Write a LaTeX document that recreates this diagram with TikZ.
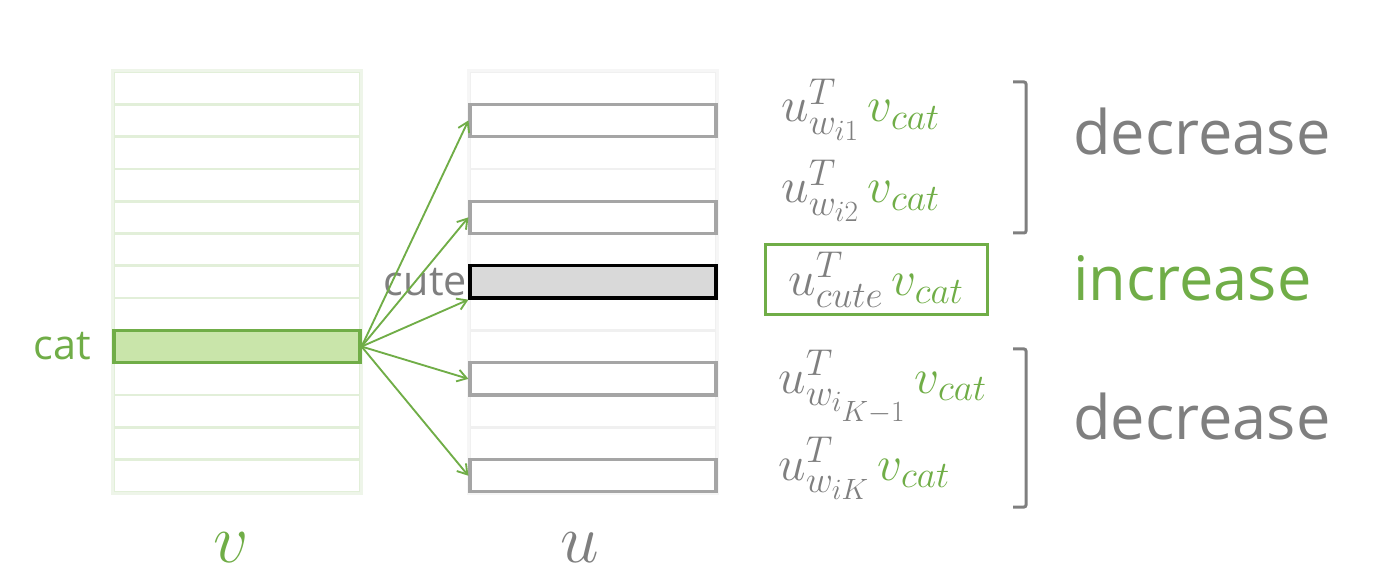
\RequirePackage{fix-cm}
\documentclass[tikz,border=0pt]{standalone}
\usepackage{amsmath}
\usepackage{fontspec}
\setmainfont{Open Sans}
\usepackage{tikz}
\usetikzlibrary{arrows.meta,positioning}
\DeclareMathSizes{37}{37}{28}{22}
\definecolor{pptgreen}{RGB}{112,173,71}
\definecolor{catfill}{RGB}{201,229,170}
\definecolor{gridgreen}{RGB}{226,239,217}
\definecolor{framegreen}{RGB}{238,245,233}
\definecolor{textgray}{RGB}{127,127,127}
\definecolor{boxgray}{RGB}{165,165,165}
\definecolor{gridgray}{RGB}{240,240,240}
\definecolor{framegray}{RGB}{246,246,246}
\definecolor{cutefill}{RGB}{217,217,217}
\tikzset{>={Straight Barb[length=7pt,width=9pt]}}
\tikzset{%
    vrow/.style={draw=gridgreen, line width=2pt, minimum width=184.5pt,
        minimum height=24.2pt, inner sep=0pt},
    urow/.style={vrow, draw=gridgray},
    catrow/.style={vrow, draw=pptgreen, fill=catfill, line width=2.4pt},
    ubox/.style={vrow, draw=boxgray, fill=white, line width=2.4pt},
    cutebox/.style={ubox, draw=black, fill=cutefill},
    word/.style={inner sep=0pt, font=\fontsize{31}{36}\selectfont},
    bigword/.style={inner sep=0pt, anchor=base west, font=\fontsize{46}{52}\selectfont},
    expr/.style={inner sep=0pt, anchor=base west, text=textgray,
        font=\fontsize{37}{42}\selectfont},
    bracket/.style={draw=textgray, line width=2.25pt, rounded corners=1.5pt},
    arrowline/.style={->, draw=pptgreen, line width=1.4pt}
}
\newcommand{\vcat}{\,{\color{pptgreen}v_{cat}}}

\begin{document}
\begin{tikzpicture}[x=0.75pt,y=-0.75pt]
\useasboundingbox (0,0) rectangle (1374,584);

% the two embedding tables
\foreach \i in {0,...,12} {
    \node[vrow] (v\i) at (237,{88.15+32.3*\i}) {};
    \node[urow] (u\i) at (593,{88.15+32.3*\i}) {};
}
\draw[framegreen, line width=2pt] (v0.north west) rectangle (v12.south east);
\draw[framegray, line width=2pt] (u0.north west) rectangle (u12.south east);

\node[catrow] (cat) at (v8) {};
\node[ubox] (w1) at (u1) {};
\node[ubox] (w2) at (u4) {};
\node[cutebox] (cute) at (u6) {};
\node[ubox] (w4) at (u9) {};
\node[ubox] (w5) at (u12) {};

\node[word, text=pptgreen, left=16pt of cat] (catname) {cat};
\node[word, text=textgray, left=1pt of cute] (cutename) {cute};

\node[inner sep=0pt, text=pptgreen, font=\fontsize{52}{56}\selectfont] (vname) at (231,548) {$v$};
\node[inner sep=0pt, text=textgray, font=\fontsize{52}{56}\selectfont] (uname) at (580,548) {$u$};

\draw[arrowline] (cat.east) -- (w1.west);
\draw[arrowline] (cat.east) -- (w2.west);
\draw[arrowline] (cat.east) -- (cute.south west);
\draw[arrowline] (cat.east) -- (w4.west);
\draw[arrowline] (cat.east) -- (w5.west);

% dot products
\node[expr] (e1) at (781,122) {$u^T_{w_{i1}}\vcat$};
\node[expr] (e2) at (781,203) {$u^T_{w_{i2}}\vcat$};
\node[expr, anchor=center, draw=pptgreen, line width=2.25pt,
    minimum width=166.5pt, minimum height=52.5pt] (e3) at (876,280) {$u^T_{cute}\vcat$};
\node[expr] (e4) at (778,393) {$u^T_{w_{i_{K-1}}}\vcat$};
\node[expr] (e5) at (778,480) {$u^T_{w_{iK}}\vcat$};

\draw[bracket] (1013,82) -- (1026,82) -- (1026,233) -- (1013,233);
\draw[bracket] (1013,349) -- (1026,349) -- (1026,507) -- (1013,507);

\node[bigword, text=textgray] (dec1) at (1073,155) {decrease};
\node[bigword, text=pptgreen] (inc) at (1073,301) {increase};
\node[bigword, text=textgray] (dec2) at (1073,440) {decrease};
\end{tikzpicture}
\end{document}
